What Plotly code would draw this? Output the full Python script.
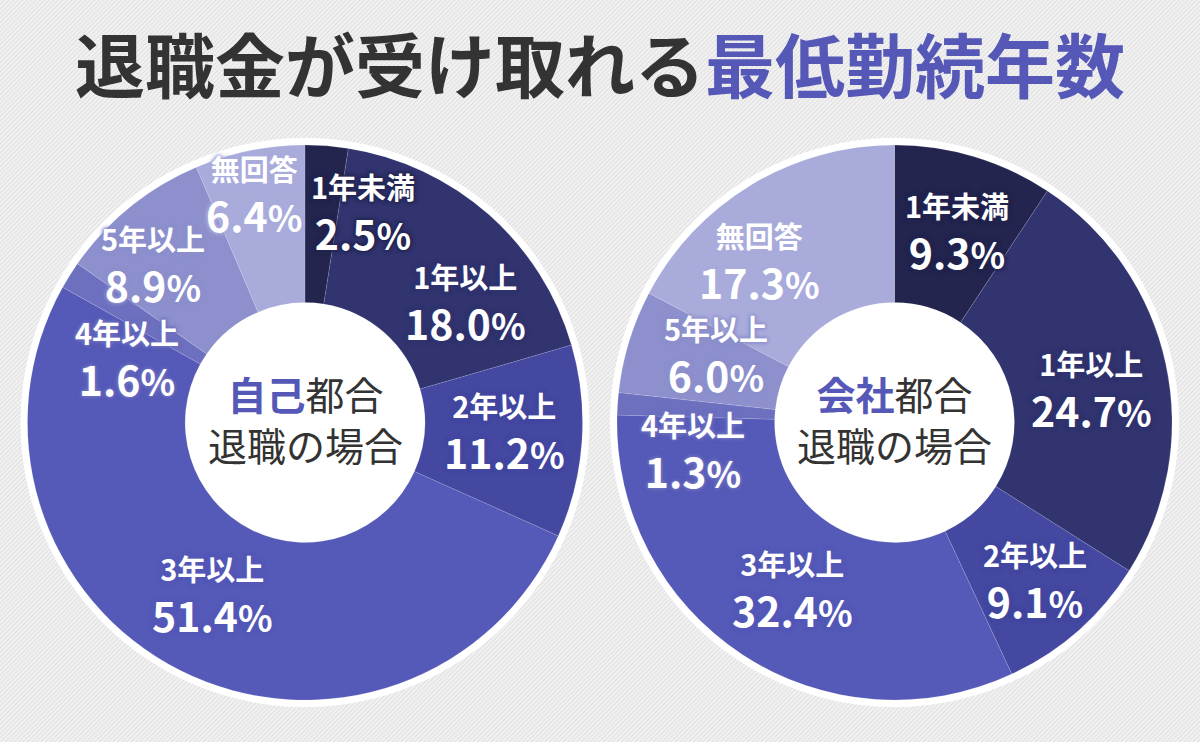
import math
import plotly.graph_objects as go

# ---------------- data ----------------
categories = ["1年未満", "1年以上", "2年以上", "3年以上", "4年以上", "5年以上", "無回答"]
self_values = [2.5, 18.0, 11.2, 51.4, 1.6, 8.9, 6.4]        # 自己都合退職
company_values = [9.3, 24.7, 9.1, 32.4, 1.3, 6.0, 17.3]     # 会社都合退職
center_accent = ["自己", "会社"]
center_rest = "都合"
center_line2 = "退職の場合"
title_dark = "退職金が受け取れる"
title_accent = "最低勤続年数"

# ---------------- styles ----------------
slice_colors = ["#23254f", "#31346f", "#4448a0", "#5559b7", "#6d70bf", "#8d90cc", "#a9acdb"]
accent = "#5558b7"
dark = "#333333"
FONT = "Noto Sans CJK JP"
W, H = 1200, 742
CX = [305, 894.5]
CY = 422.5
R = 277.5
HOLE = 0.432
LABEL_R = 200
# per-label nudges (degrees, px) so labels sit like the reference
d_theta = [[11, 12, -1, 1.5, -12.6, -5, -1], [1.6, 2.8, 0, -2, -12, 3.5, -9]]
d_r = [[17, 0, 0, -4, -11, 18, 33], [0, 0, 12, -4, 4, -9, 9]]

fig = go.Figure()

series = [self_values, company_values]
for k, vals in enumerate(series):
    cx = CX[k]
    fig.add_trace(go.Pie(
        labels=categories, values=vals, sort=False, direction="clockwise",
        rotation=0, hole=HOLE, textinfo="none", hoverinfo="label+percent",
        marker=dict(colors=slice_colors, line=dict(color="rgba(255,255,255,0.12)", width=1)),
        domain=dict(x=[(cx - R) / W, (cx + R) / W],
                    y=[(H - CY - R) / H, (H - CY + R) / H]),
        showlegend=False,
    ))

shapes = []
# striped background
segs = []
x = -H
step = 4.5
while x < W:
    segs.append(f"M{x / W:.5f},0 L{(x + H) / W:.5f},1")
    x += step
shapes.append(dict(type="path", xref="paper", yref="paper", path=" ".join(segs),
                   line=dict(color="#dcdcdc", width=1), layer="below"))

for k in range(2):
    cx = CX[k]
    for rr in (R + 7, R * HOLE + 2):
        shapes.append(dict(type="circle", xref="paper", yref="paper",
                           x0=(cx - rr) / W, x1=(cx + rr) / W,
                           y0=(H - CY - rr) / H, y1=(H - CY + rr) / H,
                           fillcolor="white", line=dict(width=0), layer="below"))

annotations = []
# title
annotations.append(dict(
    x=0.5, y=1 - 63 / H, xref="paper", yref="paper", showarrow=False,
    text=f"<b>{title_dark}<span style='color:{accent}'>{title_accent}</span></b>",
    font=dict(family=FONT, size=70, color=dark), xanchor="center", yanchor="middle"))

# center texts
for k in range(2):
    annotations.append(dict(
        x=CX[k] / W, y=1 - (CY - 4) / H, xref="paper", yref="paper", showarrow=False,
        text=f"<span style='color:{accent}'><b>{center_accent[k]}</b></span>{center_rest}<br>{center_line2}",
        font=dict(family=FONT, size=39, color=dark), xanchor="center", yanchor="middle"))

# slice labels
for k, vals in enumerate(series):
    total = sum(vals)
    cum = 0.0
    for i, v in enumerate(vals):
        mid = (cum + v / 2) / total * 360.0
        cum += v
        th = math.radians(mid + d_theta[k][i])
        r = LABEL_R + d_r[k][i]
        px = CX[k] + r * math.sin(th)
        py = CY - r * math.cos(th)
        c = slice_colors[i]
        shadow = f"0 0 3px {c}, 0 0 3px {c}, 0 0 5px {c}, 0 0 5px {c}"
        annotations.append(dict(
            x=px / W, y=1 - py / H, xref="paper", yref="paper", showarrow=False,
            text=(f"<b><span style='font-size:29px'>{categories[i]}</span><br>"
                  f"<span style='font-size:41px'>{v:.1f}</span>"
                  f"<span style='font-size:36px'>%</span></b>"),
            font=dict(family=FONT, size=39, color="white", shadow=shadow),
            xanchor="center", yanchor="middle"))

fig.update_layout(
    width=W, height=H, margin=dict(l=0, r=0, t=0, b=0),
    paper_bgcolor="#f0f0f0", plot_bgcolor="#f0f0f0",
    shapes=shapes, annotations=annotations,
)

fig.write_html("out.html")
